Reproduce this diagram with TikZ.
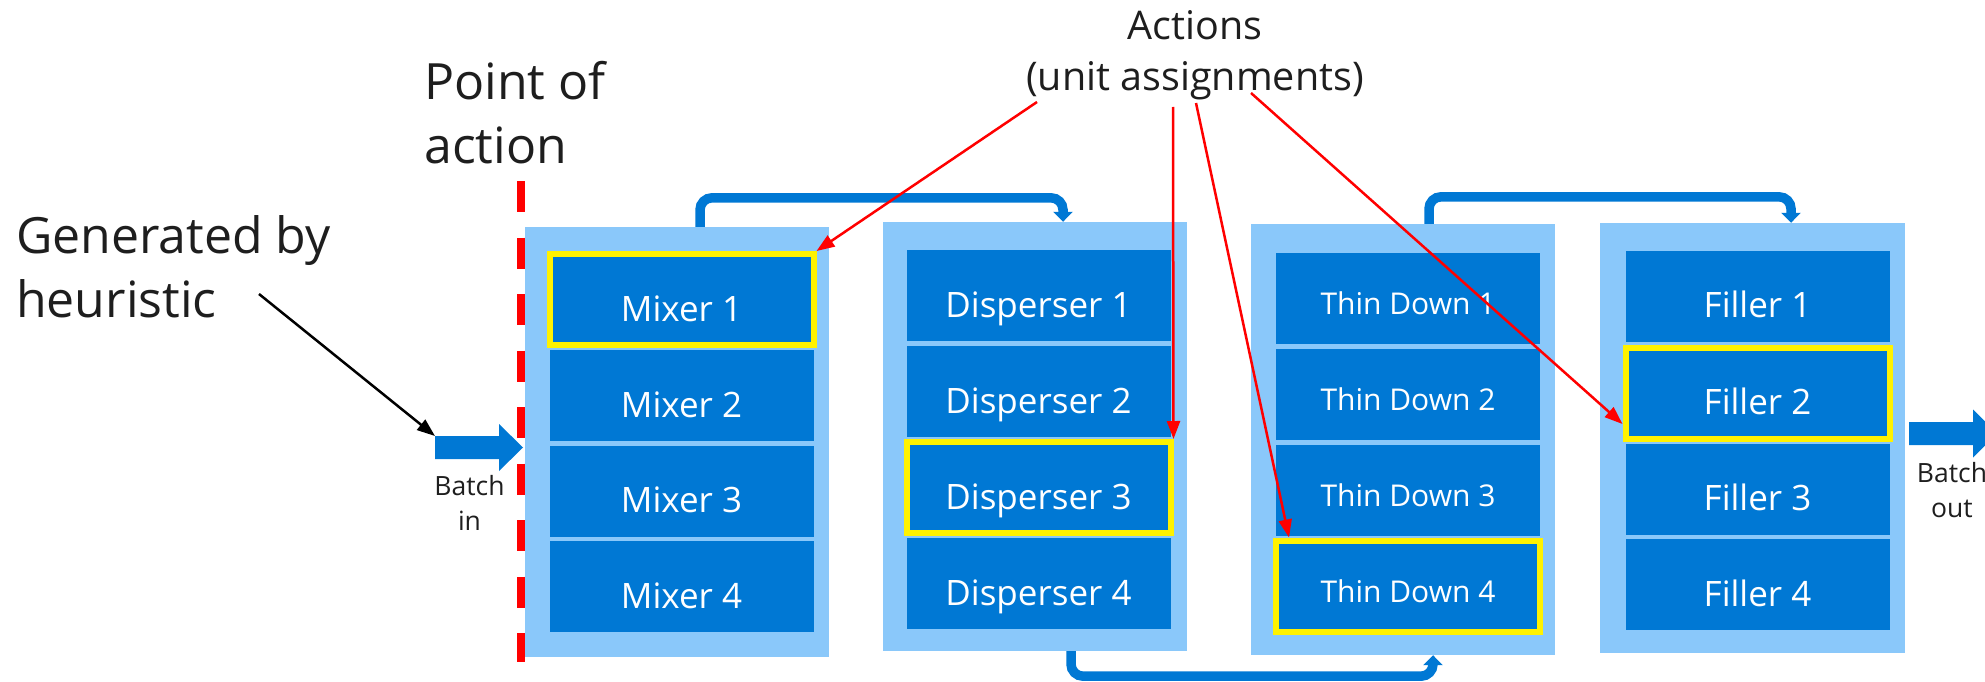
\documentclass[tikz,border=0pt]{standalone}
\usepackage{fontspec}
\setmainfont{Open Sans}
\usetikzlibrary{arrows.meta}
\usetikzlibrary{calc}

\definecolor{unitblue}{RGB}{0,120,212}
\definecolor{stageblue}{RGB}{138,200,250}
\definecolor{inkgray}{RGB}{30,30,30}

\begin{document}
\begin{tikzpicture}[x=1pt, y=-1pt,
    stagebox/.style={rectangle, fill=stageblue, inner sep=0pt, minimum width=304pt, minimum height=430pt},
    unitbox/.style={rectangle, fill=unitblue, text=white, inner sep=0pt, minimum width=264pt, minimum height=91pt, text height=43pt, text depth=0pt, font=\fontsize{35}{40}\selectfont},
    thinbox/.style={unitbox, text height=32pt, font=\fontsize{30}{34}\selectfont},
    chosen/.style={draw=yellow, line width=6pt},
    flowline/.style={unitblue, line width=9.5pt, rounded corners=12pt, -{Triangle[width=19pt, length=10pt]}},
    pickline/.style={red, line width=2.5pt, -{Triangle[width=13pt, length=18pt]}},
    bigtext/.style={text=inkgray, inner sep=0pt, align=left, font=\fontsize{50}{64}\selectfont},
    smalltext/.style={text=inkgray, inner sep=0pt, align=center, font=\fontsize{26.5}{35}\selectfont},
  ]
      \useasboundingbox (0,0) rectangle (1985,682);
      \clip (0,0) rectangle (1985,682);

      % stages
      \node[stagebox] (mixer) at (677,442) {};
      \node[stagebox, minimum height=429pt] (disp) at (1035,436.5) {};
      \node[stagebox, minimum height=431pt] (thin) at (1403,439.5) {};
      \node[stagebox, minimum width=305pt] (filler) at (1752.5,438) {};

      \node[unitbox, chosen] (m1) at (681.5,299.5) {Mixer 1};
      \node[unitbox] (m2) at (681.5,395.5) {Mixer 2};
      \node[unitbox] (m3) at (681.5,491) {Mixer 3};
      \node[unitbox] (m4) at (681.5,586.5) {Mixer 4};

      \node[unitbox] (d1) at (1038.5,295.5) {Disperser 1};
      \node[unitbox] (d2) at (1038.5,391.5) {Disperser 2};
      \node[unitbox, chosen] (d3) at (1038.5,487.5) {Disperser 3};
      \node[unitbox] (d4) at (1038.5,583.5) {Disperser 4};

      \node[thinbox] (t1) at (1408,298) {Thin Down 1};
      \node[thinbox] (t2) at (1408,394) {Thin Down 2};
      \node[thinbox] (t3) at (1408,490) {Thin Down 3};
      \node[thinbox, chosen] (t4) at (1408,586) {Thin Down 4};

      \node[unitbox] (f1) at (1757.5,296) {Filler 1};
      \node[unitbox, chosen] (f2) at (1757.5,393) {Filler 2};
      \node[unitbox] (f3) at (1757.5,489) {Filler 3};
      \node[unitbox] (f4) at (1757.5,584.5) {Filler 4};

      \draw[flowline] ([xshift=23pt]mixer.north) -- ++(0,-29) -| ([xshift=28pt]disp.north);
      \draw[flowline] ([xshift=36pt]disp.south) -- ++(0,25) -| ([xshift=30pt]thin.south);
      \draw[flowline] ([xshift=26pt]thin.north) -- ++(0,-27) -| ([xshift=38.5pt]filler.north);

      % point of action
      \draw[red, line width=8pt, dash pattern=on 31pt off 25.5pt] (521,181) -- (521,662);
      \node[bigtext, anchor=north west] (poa) at (424,61) {Point of\\action};

      % batch in / out
      \coordinate (intail) at (435,436);
      \fill[unitblue] (intail) -- ++(64,0) -- ++(0,-12) -- ++(24,23.5) -- ++(-24,23.5) -- ++(0,-12) -- ++(-64,0) -- cycle;
      \node[smalltext, anchor=north] (inlabel) at (469.5,475) {Batch\\in};
      \coordinate (outtail) at (1909,422);
      \fill[unitblue] (outtail) -- ++(64,0) -- ++(0,-12.5) -- ++(24,24) -- ++(-24,24) -- ++(0,-12.5) -- ++(-64,0) -- cycle;
      \node[smalltext, anchor=north] (outlabel) at (1952,462) {Batch\\out};

      \node[bigtext, anchor=north west] (gen) at (16,215) {Generated by\\heuristic};
      \coordinate (hint) at (259,294);
      \draw[pickline, black] (hint) -- (intail);

      % actions
      \node[bigtext, align=center, anchor=north, font=\fontsize{39.5}{51}\selectfont] (actions) at (1195,10) {Actions\\(unit assignments)};
      \coordinate (act1) at (1037,102);
      \coordinate (act2) at (1173,107);
      \coordinate (act3) at (1196,103);
      \coordinate (act4) at (1251,93);
      \draw[pickline] (act1) -- (m1.north east);
      \draw[pickline] (act2) -- (d3.north east);
      \draw[pickline] (act3) -- ([xshift=16pt]t4.north west);
      \draw[pickline] (act4) -- ([yshift=-31pt]f2.west);
    \end{tikzpicture}
\end{document}
